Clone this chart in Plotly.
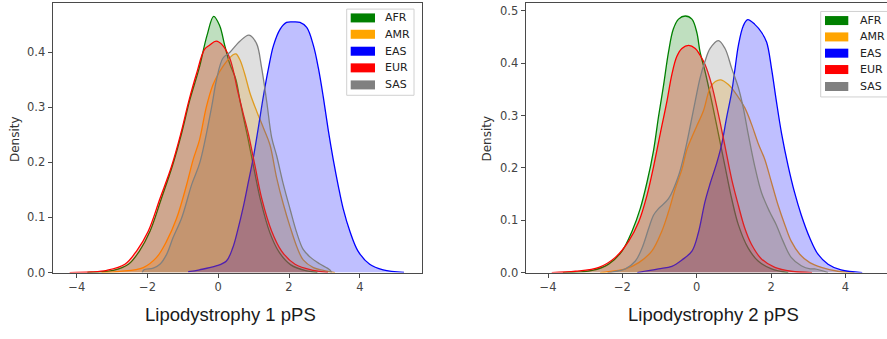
import plotly.graph_objects as go

W, H = 887, 339

populations = ["AFR", "AMR", "EAS", "EUR", "SAS"]
line_colors = ["#008000", "#FFA500", "#0000FF", "#FF0000", "#808080"]
fill_colors = ["rgba(0,128,0,0.25)", "rgba(255,165,0,0.25)", "rgba(0,0,255,0.25)",
               "rgba(255,0,0,0.25)", "rgba(128,128,128,0.25)"]

x_ticks = [-4, -2, 0, 2, 4]
y_ticks_1 = [0.0, 0.1, 0.2, 0.3, 0.4]
y_ticks_2 = [0.0, 0.1, 0.2, 0.3, 0.4, 0.5]
titles = ["Lipodystrophy 1 pPS", "Lipodystrophy 2 pPS"]

# ---------------- Panel 1 : Lipodystrophy 1 pPS (density curves) ----------------
afr1_x = [-3.7, -2.97, -2.54, -2.23, -1.93, -1.61, -1.30, -1.04, -0.81, -0.54, -0.32, -0.13,
          0.04, 0.18, 0.32, 0.50, 0.62, 0.70, 0.85, 1.02, 1.20, 1.46, 1.72, 2.05, 2.5, 2.8]
afr1_y = [0.0005, 0.004, 0.015, 0.039, 0.075, 0.134, 0.193, 0.252, 0.312, 0.371, 0.430, 0.465,
          0.448, 0.413, 0.38, 0.35, 0.31, 0.285, 0.24, 0.185, 0.13, 0.072, 0.037, 0.014, 0.003, 0.0005]

amr1_x = [-3.3, -2.78, -2.12, -1.75, -1.46, -1.18, -0.90, -0.71, -0.53, -0.34, -0.15, 0.04, 0.23,
          0.41, 0.50, 0.62, 0.75, 0.90, 1.09, 1.28, 1.46, 1.65, 1.84, 2.03, 2.22, 2.40, 2.69, 2.97, 3.3]
amr1_y = [0.0, 0.002, 0.009, 0.027, 0.057, 0.098, 0.158, 0.205, 0.241, 0.300, 0.341, 0.365, 0.383,
          0.395, 0.397, 0.385, 0.36, 0.325, 0.292, 0.262, 0.232, 0.172, 0.124, 0.083, 0.047, 0.023, 0.009, 0.004, 0.0]

eas1_x = [-0.85, -0.53, -0.06, 0.23, 0.41, 0.55, 0.71, 0.85, 1.00, 1.14, 1.28, 1.42, 1.56, 1.75,
          1.93, 2.12, 2.31, 2.50, 2.69, 2.83, 2.97, 3.11, 3.25, 3.39, 3.53, 3.72, 3.95, 4.28, 4.66, 5.25]
eas1_y = [0.0015, 0.005, 0.012, 0.021, 0.045, 0.077, 0.12, 0.164, 0.212, 0.266, 0.322, 0.371, 0.412, 0.442,
          0.454, 0.455, 0.454, 0.445, 0.412, 0.371, 0.318, 0.258, 0.205, 0.158, 0.116, 0.075, 0.039, 0.015, 0.005, 0.0005]

eur1_x = [-4.2, -3.6, -3.15, -2.64, -2.31, -1.98, -1.65, -1.32, -1.06, -0.83, -0.62, -0.39, -0.24,
          -0.06, 0.13, 0.32, 0.45, 0.53, 0.70, 0.85, 1.04, 1.23, 1.51, 1.79, 2.17, 2.69, 3.1]
eur1_y = [0.0, 0.001, 0.004, 0.015, 0.039, 0.075, 0.134, 0.193, 0.252, 0.312, 0.36, 0.405, 0.413,
          0.420, 0.412, 0.39, 0.36, 0.335, 0.29, 0.252, 0.193, 0.134, 0.075, 0.039, 0.015, 0.004, 0.0005]

sas1_x = [-2.15, -2.1, -1.84, -1.65, -1.46, -1.28, -1.03, -0.75, -0.52, -0.19, -0.05, 0.13, 0.33,
          0.61, 0.87, 1.08, 1.22, 1.37, 1.51, 1.65, 1.84, 2.03, 2.22, 2.40, 2.60, 2.86, 3.15, 3.2]
sas1_y = [0.0, 0.005, 0.008, 0.015, 0.033, 0.063, 0.10, 0.16, 0.20, 0.30, 0.35, 0.389, 0.40,
          0.42, 0.431, 0.416, 0.374, 0.31, 0.245, 0.212, 0.16, 0.115, 0.072, 0.042, 0.028, 0.016, 0.005, 0.0]

# ---------------- Panel 2 : Lipodystrophy 2 pPS (density curves) ----------------
afr2_x = [-3.6, -2.81, -2.37, -2.01, -1.74, -1.52, -1.34, -1.16, -1.03, -0.89, -0.76, -0.63, -0.49,
          -0.31, -0.13, 0.0, 0.09, 0.22, 0.40, 0.58, 0.76, 0.94, 1.12, 1.38, 1.65, 2.01, 2.46]
afr2_y = [0.0, 0.004, 0.016, 0.041, 0.079, 0.122, 0.172, 0.234, 0.297, 0.359, 0.421, 0.465, 0.484,
          0.490, 0.484, 0.459, 0.421, 0.385, 0.328, 0.266, 0.203, 0.141, 0.091, 0.047, 0.022, 0.007, 0.0]

amr2_x = [-2.6, -2.46, -1.92, -1.56, -1.21, -0.94, -0.76, -0.58, -0.40, -0.27, -0.13, 0.0, 0.18,
          0.36, 0.50, 0.65, 0.85, 1.07, 1.29, 1.47, 1.65, 1.83, 2.01, 2.19, 2.37, 2.54, 2.77, 3.04,
          3.35, 3.79, 4.24]
amr2_y = [0.0, 0.001, 0.007, 0.019, 0.041, 0.079, 0.116, 0.160, 0.197, 0.234, 0.259, 0.280, 0.309,
          0.353, 0.365, 0.368, 0.359, 0.340, 0.315, 0.284, 0.247, 0.216, 0.172, 0.128, 0.091, 0.060,
          0.035, 0.019, 0.010, 0.0025, 0.0]

eas2_x = [-1.6, -1.03, -0.67, -0.40, -0.13, 0.04, 0.22, 0.36, 0.54, 0.67, 0.80, 0.94, 1.03, 1.12,
          1.25, 1.37, 1.56, 1.74, 1.88, 2.01, 2.14, 2.28, 2.46, 2.63, 2.81, 3.04, 3.26, 3.53, 3.88, 4.45]
eas2_y = [0.0, 0.007, 0.012, 0.024, 0.041, 0.075, 0.135, 0.17, 0.21, 0.245, 0.295, 0.345, 0.39, 0.434,
          0.471, 0.483, 0.474, 0.459, 0.440, 0.390, 0.328, 0.266, 0.203, 0.153, 0.110, 0.066, 0.035,
          0.016, 0.005, 0.0]

eur2_x = [-3.9, -3.26, -2.63, -2.19, -1.83, -1.56, -1.34, -1.16, -0.98, -0.80, -0.67, -0.54, -0.40,
          -0.22, -0.04, 0.09, 0.22, 0.40, 0.58, 0.76, 0.94, 1.12, 1.29, 1.47, 1.74, 2.10, 2.54, 3.1]
eur2_y = [0.0, 0.0025, 0.010, 0.029, 0.060, 0.097, 0.147, 0.203, 0.266, 0.328, 0.378, 0.412, 0.428,
          0.434, 0.428, 0.415, 0.398, 0.359, 0.303, 0.241, 0.178, 0.128, 0.085, 0.054, 0.026, 0.010,
          0.0025, 0.0]

sas2_x = [-2.4, -2.28, -1.92, -1.65, -1.47, -1.29, -1.16, -1.03, -0.76, -0.49, -0.31, -0.18, -0.04,
          0.09, 0.22, 0.36, 0.58, 0.76, 0.94, 1.12, 1.25, 1.38, 1.56, 1.74, 1.96, 2.14, 2.32, 2.54,
          2.81, 3.05, 3.17, 3.53]
sas2_y = [0.0, 0.001, 0.007, 0.022, 0.047, 0.085, 0.110, 0.122, 0.141, 0.185, 0.234, 0.278, 0.328,
          0.372, 0.403, 0.428, 0.443, 0.428, 0.390, 0.353, 0.315, 0.266, 0.203, 0.153, 0.116, 0.091,
          0.060, 0.029, 0.013, 0.007, 0.007, 0.0]

panel1 = [(afr1_x, afr1_y), (amr1_x, amr1_y), (eas1_x, eas1_y), (eur1_x, eur1_y), (sas1_x, sas1_y)]
panel2 = [(afr2_x, afr2_y), (amr2_x, amr2_y), (eas2_x, eas2_y), (eur2_x, eur2_y), (sas2_x, sas2_y)]

fig = go.Figure()
for panel, (xa, ya) in ((panel1, ("x", "y")), (panel2, ("x2", "y2"))):
    for (xs, ys), name, lc, fc in zip(panel, populations, line_colors, fill_colors):
        fig.add_trace(go.Scatter(
            x=xs, y=ys, name=name, mode="lines", xaxis=xa, yaxis=ya,
            line=dict(color=lc, width=1.3, shape="spline", smoothing=1.0),
            fill="tozeroy", fillcolor=fc, showlegend=False, hoverinfo="skip"))

def px_x(p):
    return p / W

def px_y(p):
    return 1 - p / H

FONT = "DejaVu Sans"
TITLE_FONT = "Liberation Sans, Arial, sans-serif"
axis_common = dict(showline=True, linecolor="#4a4a4a", linewidth=1.2, ticks="outside", ticklen=4,
                   tickwidth=1, tickcolor="#4a4a4a", showgrid=False, zeroline=False,
                   tickfont=dict(family=FONT, size=11.5, color="#444"))
ydom = [px_y(278.3), px_y(3.3)]

fig.update_layout(
    width=W, height=H, margin=dict(l=0, r=0, t=0, b=0),
    paper_bgcolor="white", plot_bgcolor="white", showlegend=False,
    xaxis=dict(domain=[px_x(52.7), px_x(421.7)], range=[-4.68, 5.75], tickvals=x_ticks,
               mirror=True, anchor="y", **axis_common),
    yaxis=dict(domain=ydom, range=[0, 0.4889], tickvals=y_ticks_1, tickformat=".1f",
               mirror=True, anchor="x", **axis_common),
    xaxis2=dict(domain=[px_x(525.7), 1.0], range=[-4.6, 5.116], tickvals=x_ticks,
                mirror=True, anchor="y2", **axis_common),
    yaxis2=dict(domain=ydom, range=[0, 0.5144], tickvals=y_ticks_2, tickformat=".1f",
                mirror=False, anchor="x2", **axis_common),
)

annotations = []
shapes = []
# axis titles
for title, cx in zip(titles, [231, 713]):
    annotations.append(dict(text=title, x=px_x(cx), y=px_y(321), xref="paper", yref="paper",
                            xanchor="center", yanchor="middle", showarrow=False,
                            font=dict(family=TITLE_FONT, size=18.5, color="#1a1a1a")))
for cx in [15, 487.5]:
    annotations.append(dict(text="Density", x=px_x(cx), y=px_y(142), xref="paper", yref="paper",
                            xanchor="center", yanchor="middle", showarrow=False, textangle=-90,
                            font=dict(family=FONT, size=12, color="#333")))

# legends (matplotlib-style boxes with rectangular patches)
legend_specs = [
    dict(box=(346.7, 9.3, 414.0, 97.3), patch_x=(350.7, 375.0), text_x=383.3,
         rows=[18.3, 35.0, 52.3, 69.3, 86.7]),
    dict(box=(820.7, 11.7, 892.0, 99.0), patch_x=(825.0, 848.3), text_x=857.7,
         rows=[21.0, 37.7, 54.3, 71.0, 88.3]),
]
for spec in legend_specs:
    x0, y0, x1, y1 = spec["box"]
    shapes.append(dict(type="rect", xref="paper", yref="paper", x0=px_x(x0), x1=px_x(x1),
                       y0=px_y(y1), y1=px_y(y0), line=dict(color="#d0d0d0", width=1),
                       fillcolor="rgba(255,255,255,0.85)", layer="above"))
    for name, lc, ry in zip(populations, line_colors, spec["rows"]):
        shapes.append(dict(type="rect", xref="paper", yref="paper",
                           x0=px_x(spec["patch_x"][0]), x1=px_x(spec["patch_x"][1]),
                           y0=px_y(ry + 4.6), y1=px_y(ry - 4.6),
                           line=dict(width=0), fillcolor=lc, layer="above"))
        annotations.append(dict(text=name, x=px_x(spec["text_x"]), y=px_y(ry), xref="paper",
                                yref="paper", xanchor="left", yanchor="middle", showarrow=False,
                                font=dict(family=FONT, size=11, color="#222")))

fig.update_layout(annotations=annotations, shapes=shapes)
fig.write_html("out.html")
